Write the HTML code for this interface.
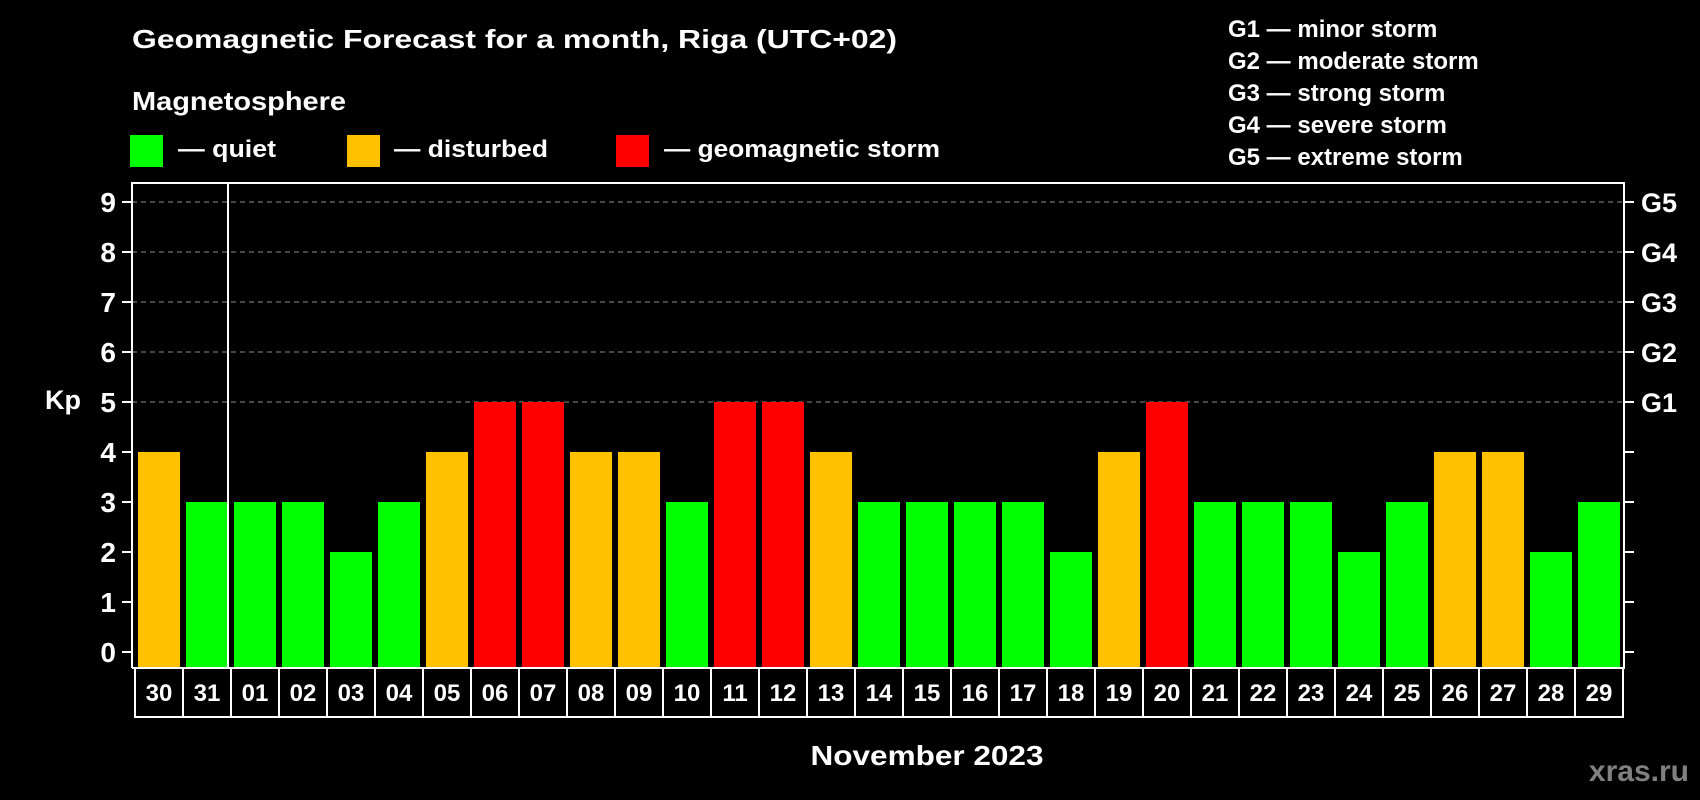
<!DOCTYPE html>
<html><head><meta charset="utf-8">
<style>
html,body{margin:0;padding:0;background:#000;}
svg{display:block;font-family:"Liberation Sans",Arial,sans-serif;font-weight:bold;}
</style></head>
<body>
<svg id="chart" width="1700" height="800" viewBox="0 0 1700 800">
  <rect x="0" y="0" width="1700" height="800" fill="#000"/>
  <text x="132" y="48" font-size="26" fill="#fff" textLength="765" lengthAdjust="spacingAndGlyphs">Geomagnetic Forecast for a month, Riga (UTC+02)</text>
  <text x="132" y="110" font-size="26" fill="#fff" textLength="214" lengthAdjust="spacingAndGlyphs">Magnetosphere</text>
  <g>
    <rect x="130" y="135" width="33" height="32" fill="#00ff00"/>
    <text x="178" y="157" font-size="24" fill="#fff" textLength="98" lengthAdjust="spacingAndGlyphs">— quiet</text>
  </g>
  <g>
    <rect x="347" y="135" width="33" height="32" fill="#ffc000"/>
    <text x="394" y="157" font-size="24" fill="#fff" textLength="154" lengthAdjust="spacingAndGlyphs">— disturbed</text>
  </g>
  <g>
    <rect x="616" y="135" width="33" height="32" fill="#ff0000"/>
    <text x="664" y="157" font-size="24" fill="#fff" textLength="276" lengthAdjust="spacingAndGlyphs">— geomagnetic storm</text>
  </g>
  <g font-size="24" fill="#fff">
    <text x="1228" y="37">G1 — minor storm</text>
    <text x="1228" y="69">G2 — moderate storm</text>
    <text x="1228" y="101">G3 — strong storm</text>
    <text x="1228" y="133">G4 — severe storm</text>
    <text x="1228" y="165">G5 — extreme storm</text>
  </g>
  <text x="63" y="409" font-size="27" fill="#fff" text-anchor="middle">Kp</text>
  <text x="927" y="765" font-size="28" fill="#fff" text-anchor="middle" textLength="233" lengthAdjust="spacingAndGlyphs">November 2023</text>
  <text x="1689" y="781" font-size="30" fill="#808080" text-anchor="end">xras.ru</text>
  <g id="grid"></g>
  <g id="bars"></g>
  <g id="axes"></g>
  <g id="labels"></g>
</svg>
<script>
const days = ["30","31","01","02","03","04","05","06","07","08","09","10","11","12","13","14","15","16","17","18","19","20","21","22","23","24","25","26","27","28","29"];
const kp = [4,3,3,3,2,3,4,5,5,4,4,3,5,5,4,3,3,3,3,2,4,5,3,3,3,2,3,4,4,2,3];
const yTicks = [0,1,2,3,4,5,6,7,8,9];
const gLabels = ["G1","G2","G3","G4","G5"];
const gLevels = [5,6,7,8,9];

const NS = "http://www.w3.org/2000/svg";
const pLeft = 132, pRight = 1624, pTop = 183, pBottom = 668;
const cellX0 = 135, cellW = 48;
function xOf(i){ return cellX0 + cellW * i; }
function yOf(v){ return 652 - 50 * v; }
function mk(tag, attrs, parent){
  const e = document.createElementNS(NS, tag);
  for (const k in attrs) e.setAttribute(k, attrs[k]);
  parent.appendChild(e);
  return e;
}
function colorOf(v){ return v >= 5 ? "#ff0000" : (v >= 4 ? "#ffc000" : "#00ff00"); }

const grid = document.getElementById("grid");
gLevels.forEach(function(v){
  const l = mk("line", {x1:pLeft, x2:pRight, y1:yOf(v), y2:yOf(v), stroke:"#8c8c8c", "stroke-width":1, "stroke-dasharray":"5,4"}, grid);
  
  
});

const bars = document.getElementById("bars");
kp.forEach(function(v, i){
  const r = mk("rect", {x:xOf(i)+3, y:yOf(v), width:42, height:pBottom - yOf(v), fill:colorOf(v)}, bars);
  
  
});

const axes = document.getElementById("axes");
const frame = mk("path", {d:"M"+pLeft+" "+pBottom+" V"+pTop+" H"+pRight+" V"+pBottom+" H"+pLeft, fill:"none", stroke:"#fff", "stroke-width":2}, axes);


const divider = mk("line", {x1:xOf(2)-3, x2:xOf(2)-3, y1:pTop, y2:pBottom, stroke:"#fff", "stroke-width":2}, axes);


yTicks.forEach(function(v){
  const t = mk("line", {x1:122, x2:pLeft, y1:yOf(v), y2:yOf(v), stroke:"#fff", "stroke-width":2}, axes);
  
  
  const t2 = mk("line", {x1:pRight, x2:pRight+10, y1:yOf(v), y2:yOf(v), stroke:"#fff", "stroke-width":2}, axes);
  
  
  const tx = mk("text", {x:116, y:yOf(v)+10, "font-size":28, fill:"#fff", "text-anchor":"end"}, axes);
  tx.textContent = String(v);
  
  
});
gLevels.forEach(function(v, i){
  const tx = mk("text", {x:1641, y:yOf(v)+10, "font-size":27, fill:"#fff"}, axes);
  tx.textContent = gLabels[i];
  
  
});

const labels = document.getElementById("labels");
days.forEach(function(d, i){
  const c = mk("rect", {x:xOf(i), y:pBottom, width:cellW, height:49, fill:"#000", stroke:"#fff", "stroke-width":2}, labels);
  
  
  const tx = mk("text", {x:xOf(i)+cellW/2, y:701, "font-size":24, fill:"#fff", "text-anchor":"middle"}, labels);
  tx.textContent = d;
  
  
});
</script>
</body></html>
